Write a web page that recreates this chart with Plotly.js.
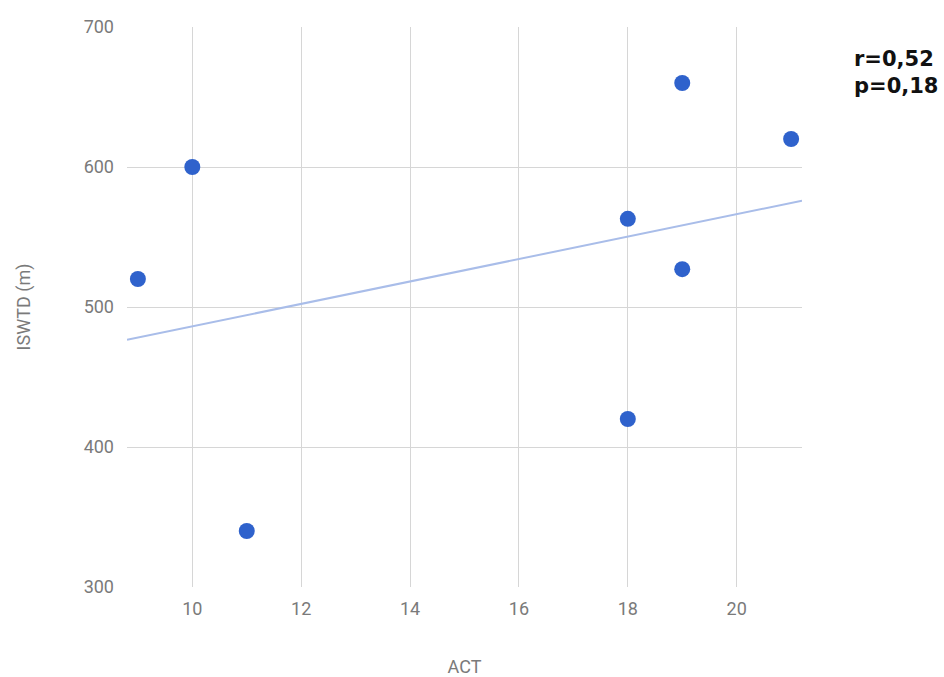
<!DOCTYPE html>
<html>
<head>
<meta charset="utf-8">
<script src="https://cdn.plot.ly/plotly-3.0.1.min.js"></script>
<style>html,body{margin:0;padding:0;background:#fff;}#chart{width:944px;height:677px;}</style>
</head>
<body>
<div id="chart"></div>
<script>
const actValues = [9, 10, 11, 18, 18, 19, 19, 21];
const iswtdValues = [520, 600, 340, 563, 420, 660, 527, 620];
const xTickValues = [10, 12, 14, 16, 18, 20];
const yTickValues = [300, 400, 500, 600, 700];
const statLines = ["r=0,52", "p=0,18"];

// least-squares trendline computed from the data
const n = actValues.length;
const mx = actValues.reduce((a, b) => a + b, 0) / n;
const my = iswtdValues.reduce((a, b) => a + b, 0) / n;
let sxy = 0, sxx = 0;
for (let i = 0; i < n; i++) { sxy += (actValues[i] - mx) * (iswtdValues[i] - my); sxx += (actValues[i] - mx) ** 2; }
const slope = sxy / sxx, intercept = my - slope * mx;
const xRange = [8.8, 21.2];
const trendX = xRange;
const trendY = trendX.map(x => intercept + slope * x);

const traces = [
  {x: trendX, y: trendY, mode: 'lines', line: {color: '#a9bde9', width: 2}, hoverinfo: 'skip', showlegend: false},
  {x: actValues, y: iswtdValues, mode: 'markers', marker: {color: '#2f62cc', size: 16}, showlegend: false}
];

const layout = {
  width: 944, height: 677,
  margin: {l: 127, r: 142, t: 27, b: 90},
  paper_bgcolor: '#fff', plot_bgcolor: '#fff',
  font: {family: 'Roboto, Arial, sans-serif', size: 14, color: '#757575'},
  showlegend: false,
  xaxis: {
    range: xRange, tickvals: xTickValues, showgrid: true, gridcolor: '#d6d6d6', gridwidth: 1,
    zeroline: false, showline: false, ticks: '', ticklen: 0, ticklabelstandoff: 9,
    tickfont: {size: 18, color: '#7a7a7a'}, automargin: false,
    title: {text: 'ACT', font: {size: 18, color: '#7a7a7a'}, standoff: 44}
  },
  yaxis: {
    range: [300, 700], tickvals: yTickValues, showgrid: true, gridcolor: '#d6d6d6', gridwidth: 1,
    zeroline: false, showline: false, ticks: '', ticklen: 0, ticklabelstandoff: 12,
    tickfont: {size: 18, color: '#7a7a7a'}, automargin: false,
    title: {text: 'ISWTD (m)', font: {size: 18, color: '#7a7a7a'}, standoff: 48}
  },
  annotations: [{
    xref: 'paper', yref: 'paper', x: 1.074, y: 0.968, xanchor: 'left', yanchor: 'top', align: 'left',
    text: '<b>' + statLines.join('<br>') + '</b>', showarrow: false,
    font: {family: 'DejaVu Sans, sans-serif', size: 21, color: '#111'}
  }]
};

Plotly.newPlot('chart', traces, layout, {displayModeBar: false, staticPlot: true});
</script>
</body>
</html>
